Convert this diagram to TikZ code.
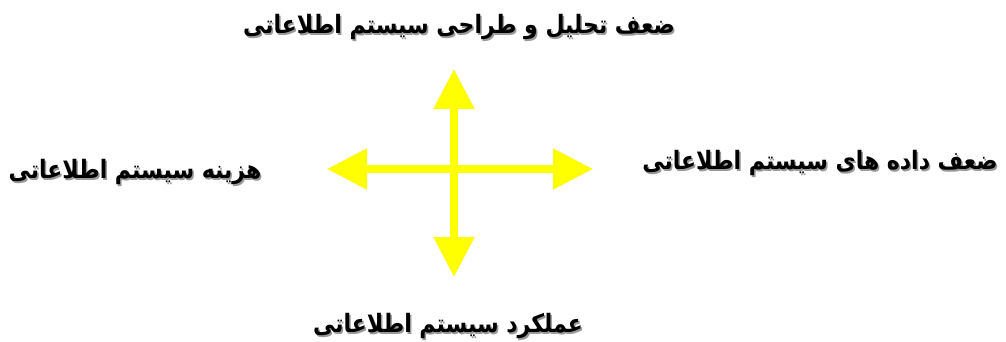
\documentclass[tikz,border=0pt]{standalone}
\usepackage{fontspec}
\usetikzlibrary{arrows.meta}
\TeXXeTstate=1
\newfontfamily\arabicfont[Script=Arabic]{DejaVu Sans}
\definecolor{arrowyellow}{RGB}{255,255,0}
\newcommand{\faText}[1]{\scalebox{1}[1.15]{\beginR #1\endR}}
\tikzset{
  yarrow/.style={draw=arrowyellow, line width=8pt, {Triangle[length=40pt,width=39pt]}-{Triangle[length=40pt,width=39pt]}},
  lbl/.style={font=\arabicfont\bfseries\fontsize{22}{26}\selectfont, text=black, inner sep=0pt},
  shadowlbl/.style={lbl, text=black!40},
}
\begin{document}
\begin{tikzpicture}[x=1pt,y=-1pt]
\useasboundingbox (0,0) rectangle (1006,342);
\coordinate (top) at (454,69);
\coordinate (bot) at (454,277);
\coordinate (lft) at (327,169);
\coordinate (rgt) at (593,169);
\draw[yarrow] (bot) -- (top);
\draw[yarrow] (lft) -- (rgt);
% shadows
\node[shadowlbl] at (460.5,28.5) {\faText{ضعف تحلیل و طراحی سیستم اطلاعاتی}};
\node[shadowlbl] at (821.5,164.5) {\faText{ضعف داده های سیستم اطلاعاتی}};
\node[shadowlbl] at (136.5,173.5) {\faText{هزینه سیستم اطلاعاتی}};
\node[shadowlbl] at (449.5,327.5) {\faText{عملکرد سیستم اطلاعاتی}};
% labels
\node[lbl] (tlabel) at (459,27) {\faText{ضعف تحلیل و طراحی سیستم اطلاعاتی}};
\node[lbl] (rlabel) at (820,163) {\faText{ضعف داده های سیستم اطلاعاتی}};
\node[lbl] (llabel) at (135,172) {\faText{هزینه سیستم اطلاعاتی}};
\node[lbl] (blabel) at (448,326) {\faText{عملکرد سیستم اطلاعاتی}};
\end{tikzpicture}
\end{document}
